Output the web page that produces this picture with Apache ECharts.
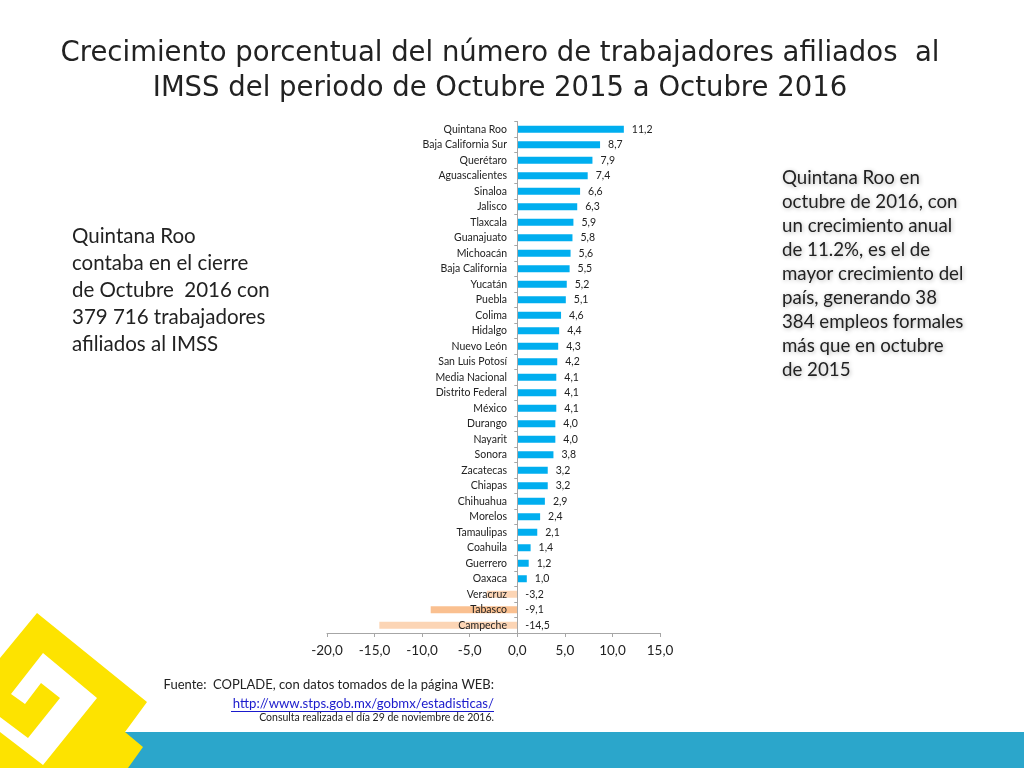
<!DOCTYPE html>
<html>
<head>
<meta charset="utf-8">
<title>Crecimiento porcentual IMSS</title>
<style>
  html, body { margin: 0; padding: 0; background: #fff; }
  #main { width: 1024px; height: 768px; }
</style>
<script src="https://cdn.jsdelivr.net/npm/echarts@6/dist/echarts.min.js"></script>
</head>
<body>
<div id="main"></div>
<script>
const estados = ["Quintana Roo", "Baja California Sur", "Querétaro", "Aguascalientes", "Sinaloa", "Jalisco",
  "Tlaxcala", "Guanajuato", "Michoacán", "Baja California", "Yucatán", "Puebla", "Colima", "Hidalgo",
  "Nuevo León", "San Luis Potosí", "Media Nacional", "Distrito Federal", "México", "Durango", "Nayarit",
  "Sonora", "Zacatecas", "Chiapas", "Chihuahua", "Morelos", "Tamaulipas", "Coahuila", "Guerrero", "Oaxaca",
  "Veracruz", "Tabasco", "Campeche"];
const crecimiento = [11.2, 8.7, 7.9, 7.4, 6.6, 6.3, 5.9, 5.8, 5.6, 5.5, 5.2, 5.1, 4.6, 4.4, 4.3, 4.2, 4.1, 4.1,
  4.1, 4.0, 4.0, 3.8, 3.2, 3.2, 2.9, 2.4, 2.1, 1.4, 1.2, 1.0, -3.2, -9.1, -14.5];

const titulo = ["Crecimiento porcentual del número de trabajadores afiliados  al",
  "IMSS del periodo de Octubre 2015 a Octubre 2016"];
const textoIzq = ["Quintana Roo", "contaba en el cierre", "de Octubre  2016 con", "379 716 trabajadores", "afiliados al IMSS"];
const textoDer = ["Quintana Roo en", "octubre de 2016, con", "un crecimiento anual", "de 11.2%, es el de",
  "mayor crecimiento del", "país, generando 38", "384 empleos formales", "más que en octubre", "de 2015"];

const fuente = "Lato, 'Open Sans', sans-serif";

function colorBarra(nombre, v) {
  if (nombre === "Tabasco") return "#fac090";
  return v < 0 ? "#fcd5b5" : "#00aeef";
}

const myChart = echarts.init(document.getElementById("main"));

const option = {
  backgroundColor: "#fff",
  animation: false,
  grid: { left: 327, right: 364, top: 121.5, bottom: 135 },
  xAxis: {
    type: "value",
    min: -20,
    max: 15,
    interval: 5,
    splitLine: { show: false },
    axisLine: { show: true, lineStyle: { color: "#a6a6a6", width: 1 } },
    axisTick: { show: true, length: 4, lineStyle: { color: "#a6a6a6" } },
    axisLabel: {
      margin: 11,
      fontFamily: fuente,
      fontSize: 13.5,
      color: "#222",
      formatter: (v) => v.toFixed(1).replace(".", ","),
    },
  },
  yAxis: {
    type: "category",
    inverse: true,
    data: estados,
    z: 5,
    axisLine: { show: true, onZero: true, lineStyle: { color: "#a6a6a6", width: 1 } },
    axisTick: { show: true, length: 3, lineStyle: { color: "#a6a6a6" } },
    // las etiquetas quedan junto al cero, encima de las barras negativas
    axisLabel: { interval: 0, margin: -180, fontFamily: fuente, fontSize: 10.5, color: "#222" },
  },
  series: [
    {
      type: "bar",
      barWidth: 7,
      silent: true,
      data: crecimiento.map((v, i) => ({
        value: v,
        itemStyle: { color: colorBarra(estados[i], v) },
      })),
      label: {
        show: true,
        position: "right",
        distance: 8,
        fontFamily: fuente,
        fontSize: 10.5,
        color: "#222",
        formatter: (p) => p.value.toFixed(1).replace(".", ","),
      },
    },
  ],
  graphic: [
    {
      type: "rect",
      z: -2,
      shape: { x: 120, y: 732, width: 904, height: 36 },
      style: { fill: "#2ba6cb" },
    },
    {
      type: "polygon",
      z: -1,
      shape: { points: [[37, 613], [147, 702], [125, 732], [143, 747], [128, 768], [0, 768], [0, 658]] },
      style: { fill: "#fde300" },
    },
    {
      type: "polygon",
      z: -1,
      shape: {
        points: [[43, 653], [97, 698], [43, 765], [0, 732], [0, 717], [28, 738], [60, 698], [41, 683], [25, 704], [11, 694]],
      },
      style: { fill: "#fff" },
    },
    {
      type: "text",
      x: 500,
      y: 36.5,
      style: {
        text: titulo.join("\n"),
        font: "27.5px 'DejaVu Sans', sans-serif",
        lineHeight: 35,
        fill: "#222",
        align: "center",
      },
    },
    {
      type: "text",
      x: 72,
      y: 223,
      style: { text: textoIzq.join("\n"), font: "20.5px " + fuente, lineHeight: 27, fill: "#222" },
    },
    {
      type: "text",
      x: 782,
      y: 166,
      style: {
        text: textoDer.join("\n"),
        font: "18.7px " + fuente,
        lineHeight: 24,
        fill: "#222",
        textShadowColor: "rgba(0,0,0,0.3)",
        textShadowBlur: 4,
        textShadowOffsetX: 1,
        textShadowOffsetY: 1,
      },
    },
    {
      type: "text",
      x: 494,
      y: 678,
      style: { text: "Fuente:  COPLADE, con datos tomados de la página WEB:", font: "13px " + fuente, fill: "#222", align: "right" },
    },
    {
      type: "text",
      x: 494,
      y: 697,
      style: { text: "http://www.stps.gob.mx/gobmx/estadisticas/", font: "13.2px " + fuente, fill: "#1a1acc", align: "right" },
    },
    {
      type: "line",
      shape: { x1: 231, y1: 711.5, x2: 494, y2: 711.5 },
      style: { stroke: "#1a1acc", lineWidth: 1 },
    },
    {
      type: "text",
      x: 494,
      y: 712,
      style: { text: "Consulta realizada el día 29 de noviembre de 2016.", font: "10.5px " + fuente, fill: "#222", align: "right" },
    },
  ],
};

myChart.setOption(option);
</script>
</body>
</html>
